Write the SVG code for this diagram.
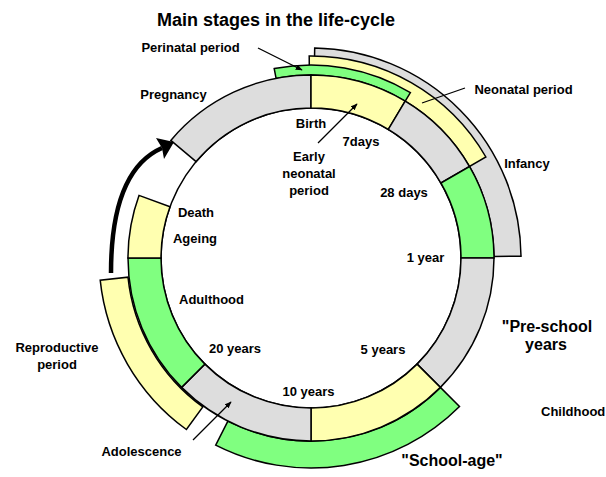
<svg xmlns="http://www.w3.org/2000/svg" width="606" height="477" viewBox="0 0 606 477">
<style>
text{font-family:"Liberation Sans",Arial,sans-serif;font-weight:bold;font-size:13px;fill:#000;text-anchor:middle}
.big{font-size:16px}
.title{font-size:18px}
.seg{stroke:#000;stroke-width:1.5;stroke-linejoin:miter}
.g{fill:#DDDDDD}
.y{fill:#FFFFB0}
.gr{fill:#80FF80}
.ptr{stroke:#000;stroke-width:1.3;fill:none}
</style>
<defs>
<marker id="ah" viewBox="0 0 10 10" refX="9" refY="5" markerWidth="7" markerHeight="7" markerUnits="userSpaceOnUse" orient="auto">
<path d="M0,1 L10,5 L0,9 z" fill="#000"/>
</marker>
</defs>
<rect width="606" height="477" fill="#fff"/>
<text class="title" x="276" y="26">Main stages in the life-cycle</text>

<g id="outer-bands">
<g id="infancy-band"><path class="seg g" d="M314.7,48 A210,210 0 0 1 521,256.2 L494,256.4 A183,183 0 0 0 314.2,75 Z"/></g>
<g id="neonatal-band"><path class="seg y" d="M309.2,56 A202,202 0 0 1 485.9,157 L469.5,166.5 A183,183 0 0 0 309.4,75 Z"/></g>
<g id="perinatal-band"><path class="seg gr" d="M274.2,68.6 A193,193 0 0 1 410.4,92.6 L405.2,101.1 A183,183 0 0 0 276.1,78.4 Z"/></g>
<g id="school-age-band"><path class="seg gr" d="M459.5,406.5 A210,210 0 0 1 215.7,445.1 L227.9,421.1 A183,183 0 0 0 440.4,387.4 Z"/></g>
<g id="reproductive-band"><path class="seg y" d="M186.4,429.5 A212,212 0 0 1 100.2,280.2 L128,277.2 A183,183 0 0 0 202.8,406.9 Z"/></g>
</g>

<g id="main-ring">
<g id="inner-circle"><circle cx="311" cy="258" r="150" fill="#fff" stroke="#000" stroke-width="1.5"/></g>
<g id="pregnancy"><path class="seg g" d="M170.8,140.4 A183,183 0 0 1 311,75 L311,108 A150,150 0 0 0 196.1,161.6 Z"/></g>
<g id="early-neonatal"><path class="seg y" d="M311,75 A183,183 0 0 1 405.2,101.1 L388.3,129.4 A150,150 0 0 0 311,108 Z"/></g>
<g id="late-neonatal"><path class="seg g" d="M405.2,101.1 A183,183 0 0 1 469.5,166.5 L440.9,183 A150,150 0 0 0 388.3,129.4 Z"/></g>
<g id="post-neonatal"><path class="seg gr" d="M469.5,166.5 A183,183 0 0 1 494,258 L461,258 A150,150 0 0 0 440.9,183 Z"/></g>
<g id="pre-school"><path class="seg g" d="M494,258 A183,183 0 0 1 440.4,387.4 L417.1,364.1 A150,150 0 0 0 461,258 Z"/></g>
<g id="school-age"><path class="seg y" d="M440.4,387.4 A183,183 0 0 1 311,441 L311,408 A150,150 0 0 0 417.1,364.1 Z"/></g>
<g id="adolescence"><path class="seg g" d="M311,441 A183,183 0 0 1 181.6,387.4 L204.9,364.1 A150,150 0 0 0 311,408 Z"/></g>
<g id="adulthood"><path class="seg gr" d="M181.6,387.4 A183,183 0 0 1 128,258 L161,258 A150,150 0 0 0 204.9,364.1 Z"/></g>
<g id="ageing"><path class="seg y" d="M128,258 A183,183 0 0 1 139,195.4 L170,206.7 A150,150 0 0 0 161,258 Z"/></g>
</g>

<g id="connectors">
<path d="M111,273 C111,205 128,163 162,148" fill="none" stroke="#000" stroke-width="4.5"/>
<polygon points="174,142 156,138 162,148 164,159" fill="#000"/>
<line class="ptr" x1="258" y1="48" x2="302" y2="70" marker-end="url(#ah)"/>
<line class="ptr" x1="318" y1="143" x2="357" y2="104" marker-end="url(#ah)"/>
<line class="ptr" x1="465" y1="88" x2="422" y2="103"/>
<line class="ptr" x1="193" y1="440" x2="231" y2="402" marker-end="url(#ah)"/>
</g>

<g id="labels">
<text x="190.5" y="52">Perinatal period</text>
<text x="173.5" y="99">Pregnancy</text>
<text x="311" y="128">Birth</text>
<text x="361" y="146">7days</text>
<text x="309" y="161">Early</text>
<text x="309" y="178">neonatal</text>
<text x="309" y="195">period</text>
<text x="404" y="197">28 days</text>
<text x="523.5" y="94">Neonatal period</text>
<text x="527" y="168">Infancy</text>
<text x="425.5" y="262">1 year</text>
<text class="big" x="547" y="332">"Pre-school</text>
<text class="big" x="546" y="350">years</text>
<text x="541" y="416" style="text-anchor:start">Childhood</text>
<text class="big" x="452" y="466">"School-age"</text>
<text x="383" y="354">5 years</text>
<text x="308.5" y="396">10 years</text>
<text x="235" y="353">20 years</text>
<text x="211.5" y="304">Adulthood</text>
<text x="57" y="352">Reproductive</text>
<text x="57" y="369">period</text>
<text x="141.5" y="456">Adolescence</text>
<text x="196" y="217">Death</text>
<text x="195" y="243">Ageing</text>
</g>
</svg>
